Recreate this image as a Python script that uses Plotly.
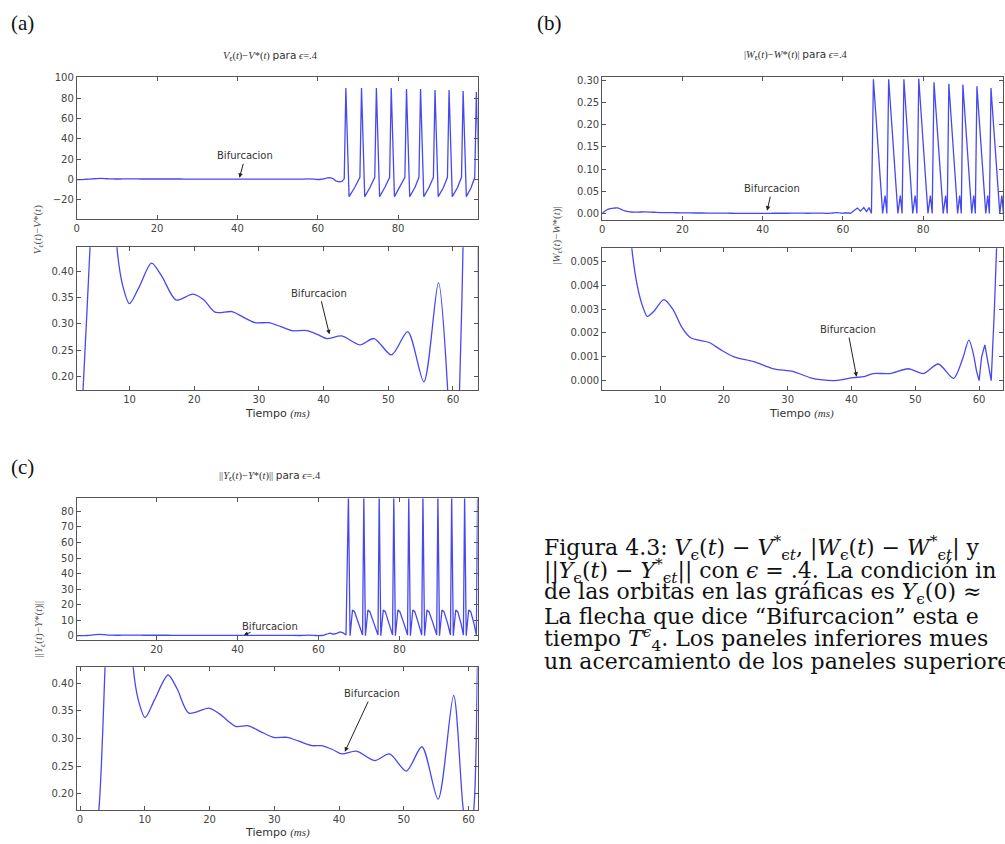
import plotly.graph_objects as go

W, H = 1005, 844

# ---------------- data ----------------
# (a) V_eps(t) - V*(t): smooth part (also used for the zoomed panel)
va_t = [0, 1, 2, 2.8, 3.9, 5, 6, 7, 8.05, 9, 10, 11.5, 13.4, 15, 17.2, 19.8, 21.5, 23.2,
        25.85, 27.5, 29.4, 31.5, 33.3, 35.1, 37.4, 39, 40.5, 42.8, 45.6, 47.8, 50.5, 53,
        55.5, 57.75, 59.2, 60.1, 61.0, 61.55, 62.2]
va_y = [-0.3, -0.25, -0.05, 0.17, 0.445, 0.8, 0.9, 0.75, 0.445, 0.37, 0.338, 0.37, 0.415,
        0.39, 0.345, 0.356, 0.345, 0.322, 0.323, 0.313, 0.302, 0.302, 0.295, 0.287, 0.287,
        0.28, 0.272, 0.277, 0.26, 0.272, 0.241, 0.285, 0.19, 0.378, 0.17, -0.15, 0.17,
        0.445, 1.2]
# (a) spiking part
va2_t = [62.2, 62.9, 63.7, 64.5, 65.3, 66.0, 66.6,
         67.0, 67.8, 69.2, 70.5, 70.9, 71.7, 73.0, 74.2, 74.6, 75.4, 76.7, 77.9,
         78.3, 79.1, 80.4, 81.7, 82.1, 82.9, 84.2, 85.2, 85.6, 86.4, 87.7, 88.8,
         89.2, 90.0, 91.3, 92.3, 92.7, 93.5, 94.8, 95.8, 96.2, 97.0, 98.2, 99.1,
         99.5, 100.3]
va2_y = [1.2, 1.7, 1.0, -1.5, -2.5, -2.0, 0.5,
         90, -17, -8, 2, 90, -17, -8, 2, 90, -17, -8, 2,
         90, -17, -8, 2, 89, -17, -8, 2, 89, -17, -8, 2,
         88, -17, -8, 2, 88, -17, -8, 2, 87, -17, -8, 2,
         86, -17]

# (b) |W_eps(t) - W*(t)|: smooth part
wb_t = [0, 0.9, 2, 3, 3.8, 4.6, 5.6, 6.5, 7.3, 8, 9, 10.6, 12, 13.5, 14.8, 16, 17.7, 19.5,
        21.6, 24.7, 27.8, 30.9, 33.6, 35.5, 37.2, 38.7, 40.3, 42, 43.4, 46, 48.9, 51.3,
        53.6, 56, 57.4, 58.4, 59.2]
wb_y = [0, 0.0065, 0.0105, 0.012, 0.0125, 0.0095, 0.0055, 0.0039, 0.0031, 0.0027, 0.0029,
        0.0034, 0.0030, 0.0022, 0.0018, 0.0017, 0.0016, 0.0013, 0.0010, 0.0008, 0.0005,
        0.00038, 0.00012, 0.00003, 0.0, 0.00005, 0.00013, 0.00017, 0.0003, 0.0003,
        0.0005, 0.0003, 0.0007, 0.0001, 0.0009, 0.0017, 0.0010]
# (b) spiking part
wb2_t = [59.2, 59.6, 60.0, 60.4, 60.9, 61.4, 61.9, 62.4, 62.8, 63.6, 64.4, 65.2, 65.9, 66.5,
         67.1, 67.6, 69.9, 70.5, 70.95, 71.4, 73.7, 74.3, 74.75, 75.2, 77.4, 78.0, 78.45,
         78.9, 81.2, 81.8, 82.25, 82.7, 85.0, 85.6, 86.0, 86.4, 88.6, 89.1, 89.5, 89.9,
         92.1, 92.6, 93.0, 93.4, 95.6, 96.1, 96.5, 96.9, 99.1, 99.6, 100.0, 100.3]
wb2_y = [0.0010, 0.0004, 0.0, 0.0010, 0.0015, 0.0008, 0.0, 0.003, 0.006, 0.012, 0.005, 0.013,
         0.004, 0.013, 0.0, 0.303, 0, 0.04, 0, 0.303, 0, 0.04, 0, 0.303, 0, 0.04, 0,
         0.304, 0, 0.04, 0, 0.296, 0, 0.04, 0, 0.293, 0, 0.04, 0, 0.291,
         0, 0.04, 0, 0.287, 0, 0.04, 0, 0.283, 0, 0.04, 0, 0.28]

# (c) ||Y_eps(t) - Y*(t)||: smooth part
yc_t = [0, 1, 2, 2.9, 3.9, 5, 6, 7, 8.2, 9, 10.06, 11.5, 13.6, 15, 16.8, 19.9, 21.5, 24,
        26, 27.8, 29.9, 32, 33.8, 35.8, 37.3, 39, 40.4, 42.7, 45.5, 47.8, 50.4, 52.8,
        55.3, 57.7, 59.2, 60.0, 60.8, 61.4, 62.2]
yc_y = [0.0, 0.05, 0.1, 0.17, 0.44, 0.8, 0.9, 0.75, 0.43, 0.37, 0.338, 0.37, 0.415,
        0.39, 0.346, 0.355, 0.345, 0.322, 0.323, 0.313, 0.302, 0.302, 0.295, 0.287, 0.287,
        0.28, 0.272, 0.277, 0.26, 0.272, 0.241, 0.285, 0.19, 0.378, 0.17, 0.12, 0.17,
        0.45, 1.2]
# (c) spiking part
yc2_t = [62.2, 62.9, 63.7, 64.5, 65.3, 66.0, 66.8,
         67.4, 67.8, 68.4, 68.9, 69.9, 70.9,
         71.2, 71.6, 72.2, 72.7, 73.7, 74.7,
         75.0, 75.4, 76.0, 76.5, 77.4, 78.3,
         78.6, 79.0, 79.6, 80.1, 81.1, 82.0,
         82.3, 82.7, 83.3, 83.8, 84.7, 85.5,
         85.8, 86.2, 86.8, 87.3, 88.3, 89.2,
         89.5, 89.9, 90.5, 91.0, 91.9, 92.6,
         92.9, 93.3, 93.9, 94.4, 95.2, 95.8,
         96.1, 96.5, 97.1, 97.6, 98.4, 99.0,
         99.3, 99.7, 100.3]
yc2_y = [1.2, 1.7, 1.0, 1.5, 2.5, 2.0, 0.5,
         90, 0, 16.5, 15.5, 8, 0.5,
         90, 0, 16.5, 15.5, 8, 0.5,
         90, 0, 16.5, 15.5, 8, 0.5,
         90, 0, 16.5, 15.5, 8, 0.5,
         90, 0, 16.5, 15.5, 8, 0.5,
         90, 0, 16.5, 15.5, 8, 0.5,
         90, 0, 16.5, 15.5, 8, 0.5,
         90, 0, 16.5, 15.5, 8, 0.5,
         90, 0, 16.5, 15.5, 8, 0.5,
         90, 0, 16.5]

# ---------------- styling helpers ----------------
LINE = dict(color="#4848f0", width=1.3)
SERIF = "Liberation Serif"
CAPFONT = "DejaVu Serif"
SANS = "DejaVu Sans"
FRAME = "#555555"


def P(x, y):
    """pixel position -> paper coordinates"""
    return x / W, 1 - y / H


def dom_x(x0, x1):
    return [x0 / W, x1 / W]


def dom_y(y0, y1):
    return [1 - y1 / H, 1 - y0 / H]


def axis(domain, rng, anchor, tickvals, fmt=None):
    d = dict(domain=domain, range=rng, anchor=anchor, showline=True, linecolor=FRAME,
             linewidth=1, mirror="ticks", ticks="inside", ticklen=4, tickcolor=FRAME,
             showgrid=False, zeroline=False, tickvals=tickvals,
             tickfont=dict(family=SANS, size=10, color="#444444"))
    if fmt:
        d["tickformat"] = fmt
    return d


fig = go.Figure()

pairs = [("x", "y"), ("x2", "y2"), ("x3", "y3"), ("x4", "y4"), ("x5", "y5"), ("x6", "y6")]
series = [
    ((va_t, va_y), (va2_t, va2_y)),
    ((va_t, va_y), (va2_t, va2_y)),
    ((wb_t, wb_y), (wb2_t, wb2_y)),
    ((wb_t, wb_y), (wb2_t, wb2_y)),
    ((yc_t, yc_y), (yc2_t, yc2_y)),
    ((yc_t, yc_y), (yc2_t, yc2_y)),
]
for (xa, ya), (smooth, spikes) in zip(pairs, series):
    fig.add_trace(go.Scatter(x=smooth[0], y=smooth[1], mode="lines", xaxis=xa, yaxis=ya,
                             line=dict(shape="spline", smoothing=0.8, **LINE),
                             hoverinfo="skip"))
    fig.add_trace(go.Scatter(x=spikes[0], y=spikes[1], mode="lines", xaxis=xa, yaxis=ya,
                             line=dict(shape="linear", **LINE), hoverinfo="skip"))

layout = dict(
    width=W, height=H, margin=dict(l=0, r=0, t=0, b=0),
    paper_bgcolor="white", plot_bgcolor="white", showlegend=False,
    xaxis=axis(dom_x(74, 476), [0, 99.8], "y", [0, 20, 40, 60, 80]),
    yaxis=axis(dom_y(73, 216), [-39.5, 100.3], "x", [-20, 0, 20, 40, 60, 80, 100]),
    xaxis2=axis(dom_x(74, 476), [1.85, 63.8], "y2", [10, 20, 30, 40, 50, 60]),
    yaxis2=axis(dom_y(244, 388), [0.174, 0.445], "x2", [0.20, 0.25, 0.30, 0.35, 0.40], ".2f"),
    xaxis3=axis(dom_x(601, 1003), [0, 99.9], "y3", [0, 20, 40, 60, 80]),
    yaxis3=axis(dom_y(73, 217), [-0.016, 0.307], "x3",
                [0, 0.05, 0.10, 0.15, 0.20, 0.25, 0.30], ".2f"),
    xaxis4=axis(dom_x(601, 1003), [0.94, 63.75], "y4", [10, 20, 30, 40, 50, 60]),
    yaxis4=axis(dom_y(245, 388), [-0.0004, 0.00555], "x4",
                [0, 0.001, 0.002, 0.003, 0.004, 0.005], ".3f"),
    xaxis5=axis(dom_x(74, 476), [0.3, 99.3], "y5", [20, 40, 60, 80]),
    yaxis5=axis(dom_y(497, 640), [-3, 88.3], "x5", [0, 10, 20, 30, 40, 50, 60, 70, 80]),
    xaxis6=axis(dom_x(74, 476), [-0.5, 61.4], "y6", [0, 10, 20, 30, 40, 50, 60]),
    yaxis6=axis(dom_y(667, 811), [0.17, 0.429], "x6", [0.20, 0.25, 0.30, 0.35, 0.40], ".2f"),
)
fig.update_layout(**layout)

ann = []


def text(x, y, s, size=10, family=SANS, color="#333333", angle=0, xanchor="center",
         yanchor="middle"):
    px, py = P(x, y)
    ann.append(dict(x=px, y=py, xref="paper", yref="paper", text=s, showarrow=False,
                    textangle=angle, xanchor=xanchor, yanchor=yanchor,
                    font=dict(family=family, size=size, color=color)))


def bif(xref, yref, x, y, ax, ay):
    """'Bifurcacion' label placed at pixel offset (ax, ay) with an arrow to (x, y)"""
    ann.append(dict(x=x, y=y, xref=xref, yref=yref, ax=ax, ay=ay, text="Bifurcacion",
                    showarrow=True, arrowhead=2, arrowsize=0.9, arrowwidth=1,
                    arrowcolor="#222222", standoff=0, startstandoff=1,
                    font=dict(family=SANS, size=10, color="#333333")))


# panel letters
text(20, 18, "(a)", size=21, family=SERIF, color="#111111")
text(548, 18, "(b)", size=21, family=SERIF, color="#111111")
text(20, 465, "(c)", size=21, family=SERIF, color="#111111")

# small titles
para = "<span style='font-family:DejaVu Sans'>para</span>"
text(268, 51, "<i>V</i><sub>ϵ</sub>(<i>t</i>)−<i>V</i>*(<i>t</i>) " + para + " <i>ϵ</i>=.4",
     size=10.5, family=SERIF)
text(795, 50, "|<i>W</i><sub>ϵ</sub>(<i>t</i>)−<i>W</i>*(<i>t</i>)| " + para + " <i>ϵ</i>=.4",
     size=10.5, family=SERIF)
text(268, 474, "||<i>Y</i><sub>ϵ</sub>(<i>t</i>)−<i>Y</i>*(<i>t</i>)|| " + para + " <i>ϵ</i>=.4",
     size=10.5, family=SERIF)

# y labels
text(35, 226, "<i>V</i><sub>ϵ</sub>(<i>t</i>)−<i>V</i>*(<i>t</i>)", size=11, family=SERIF,
     color="#555555", angle=-90)
text(556, 232, "|<i>W</i><sub>ϵ</sub>(<i>t</i>)−<i>W</i>*(<i>t</i>)|", size=11, family=SERIF,
     color="#555555", angle=-90)
text(36, 628, "||<i>Y</i><sub>ϵ</sub>(<i>t</i>)−<i>Y</i>*(<i>t</i>)||", size=11, family=SERIF,
     color="#555555", angle=-90)

# x labels
ms = "<span style='font-family:Liberation Serif'><i>(ms)</i></span>"
text(275, 411, "Tiempo " + ms, size=11)
text(801, 411, "Tiempo " + ms, size=11)
text(275, 833, "Tiempo " + ms, size=11)

# Bifurcacion labels with arrows
bif("x", "y", 40.5, 1.5, 6, -22)
bif("x2", "y2", 40.9, 0.28, -10, -41)
bif("x3", "y3", 41.1, 0.006, 5, -22)
bif("x4", "y4", 40.8, 0.00017, -9, -47)
bif("x6", "y6", 40.9, 0.276, 27, -58)
# (c) top: label beside the trace with a short arrow
text(268, 626, "Bifurcacion", size=10)
ann.append(dict(x=41.6, y=0.6, xref="x5", yref="y5", ax=8, ay=-3, text="", showarrow=True,
                arrowhead=2, arrowsize=0.8, arrowwidth=1, arrowcolor="#222222",
                standoff=0))

# caption (clipped at the right edge like the page)
cap = [
    "Figura 4.3: <i>V</i><sub>ϵ</sub>(<i>t</i>) − <i>V</i><sup>*</sup><sub>ϵ<i>t</i></sub>, "
    "|<i>W</i><sub>ϵ</sub>(<i>t</i>) − <i>W</i><sup>*</sup><sub>ϵ<i>t</i></sub>| y",
    "||<i>Y</i><sub>ϵ</sub>(<i>t</i>) − <i>Y</i><sup>*</sup><sub>ϵ<i>t</i></sub>|| con "
    "<i>ϵ</i> = .4. La condición in",
    "de las orbitas en las gráficas es <i>Y</i><sub>ϵ</sub>(0) ≈",
    "La flecha que dice “Bifurcacion” esta e",
    "tiempo <i>T</i><sup><i>ϵ</i></sup><sub>4</sub>. Los paneles inferiores mues",
    "un acercamiento de los paneles superiore",
]
for i, line in enumerate(cap):
    text(541, 547 + 22.8 * i, line, size=22, family=CAPFONT, color="#111111", xanchor="left")

fig.update_layout(annotations=ann)
fig.write_html("out.html")
